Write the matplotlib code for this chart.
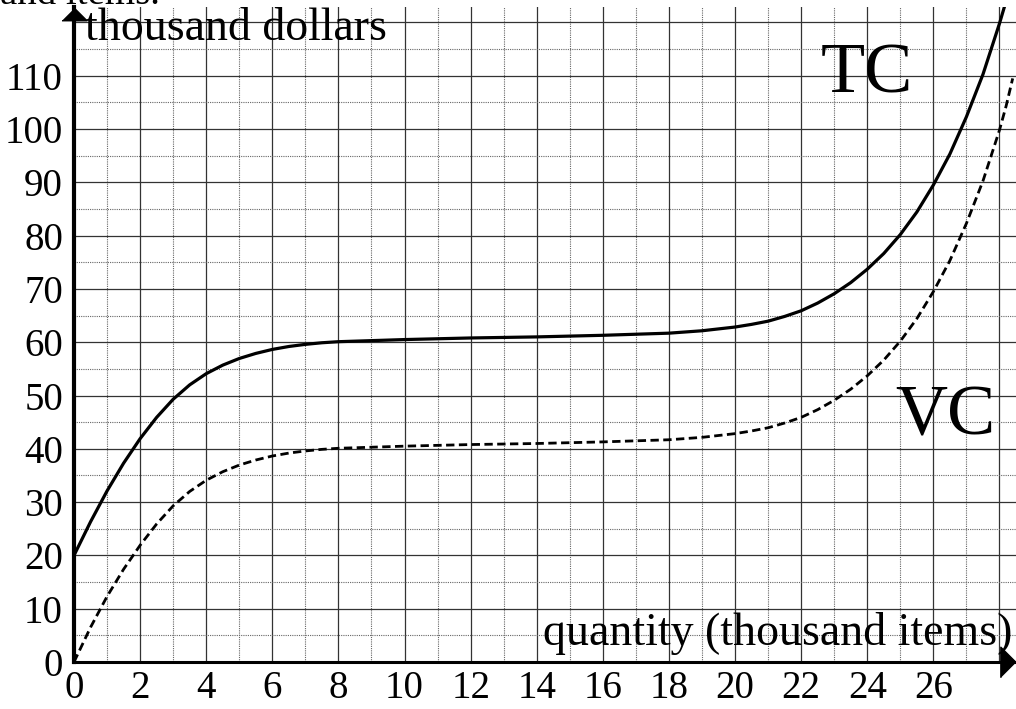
import matplotlib.pyplot as plt

plt.rcParams['font.family'] = ['Liberation Serif', 'DejaVu Serif']

# quantity (thousand items) and cost readings (thousand dollars)
q_tc = [0, 0.5, 1, 1.5, 2, 2.5, 3, 3.5, 4, 4.5, 5, 5.5, 6, 6.5, 7, 7.5, 8,
        10, 12, 14, 16, 18, 19, 20, 20.5, 21, 21.5, 22, 22.5, 23, 23.5, 24, 24.5,
        25, 25.5, 26, 26.5, 27, 27.5, 28, 28.2]
tc = [20, 26.3, 32.1, 37.3, 41.9, 45.9, 49.3, 52.0, 54.1, 55.7, 56.95, 57.9, 58.65, 59.2, 59.6, 59.9, 60.1,
      60.5, 60.8, 61.0, 61.3, 61.7, 62.15, 62.85, 63.35, 63.95, 64.84, 65.9, 67.35, 69.1, 71.19, 73.7, 76.65,
      80.2, 84.43, 89.5, 95.32, 102.3, 110.25, 119.8, 124.0]

q_vc = [0, 0.5, 1, 1.5, 2, 2.5, 3, 3.5, 4, 4.5, 5, 5.5, 6, 6.5, 7, 7.5, 8,
        10, 12, 14, 16, 18, 19, 20, 20.5, 21, 21.5, 22, 22.5, 23, 23.5, 24, 24.5,
        25, 25.5, 26, 26.5, 27, 27.5, 28, 28.2, 28.4]
vc = [0, 6.5, 12.3, 17.4, 21.9, 25.9, 29.3, 32.0, 34.1, 35.7, 36.95, 37.9, 38.65, 39.2, 39.6, 39.9, 40.1,
      40.5, 40.8, 41.0, 41.3, 41.7, 42.15, 42.85, 43.35, 43.95, 44.84, 45.9, 47.35, 49.1, 51.19, 53.7, 56.65,
      60.2, 64.43, 69.5, 75.32, 82.3, 90.25, 99.8, 104.3, 109.5]

x_ticks = list(range(0, 27, 2))
y_ticks = list(range(0, 111, 10))

fig = plt.figure(figsize=(10.16, 7.09), dpi=100)
ax = fig.add_axes([74 / 1016, 47 / 709, 942 / 1016, 655 / 709])
ax.set_xlim(0, 28.5)
ax.set_ylim(0, 122.9)

# grid: solid every 2 / 10, dotted every 1 / 5
ax.set_xticks(list(range(0, 29, 2)), [str(t) for t in x_ticks] + [''])
ax.set_yticks(list(range(0, 121, 10)), [str(t) for t in y_ticks] + [''])
ax.set_xticks(list(range(1, 29, 2)), minor=True)
ax.set_yticks(list(range(5, 121, 10)), minor=True)
ax.grid(which='major', color='0.2', lw=0.9)
ax.grid(which='minor', color='0.4', lw=0.8, ls=(0, (1, 1)))
ax.set_axisbelow(True)
ax.tick_params(which='both', length=0)
ax.tick_params(axis='x', labelsize=28, pad=6)
ax.tick_params(axis='y', labelsize=28, pad=8)

for s in ['top', 'right']:
    ax.spines[s].set_visible(False)
ax.spines['left'].set_linewidth(3)
ax.spines['bottom'].set_linewidth(2.2)
ax.spines['left'].set_zorder(5)
ax.spines['bottom'].set_zorder(5)

# arrow heads
ax.plot([0], [121.5], marker=[(-1, -0.5), (1, -0.5), (0, 0.5)], ms=18, color='black', clip_on=False, zorder=6)
ax.plot([28.26], [0], marker=[(-0.5, -1), (-0.5, 1), (0.5, 0)], ms=22, color='black', clip_on=False, zorder=6)

ax.plot(q_tc, tc, color='black', lw=2.3, zorder=4)
ax.plot(q_vc, vc, color='black', lw=2, dashes=(3, 1.6), zorder=4)

ax.text(0.33, 116.7, 'thousand dollars', fontsize=33, ha='left', va='baseline')
ax.text(0.996, 3.2 / 122.9, 'quantity (thousand items)', fontsize=33, ha='right', va='baseline',
        transform=ax.transAxes)
ax.text(22.6, 106.9, 'TC', fontsize=52, ha='left', va='baseline')
ax.text(24.85, 42.6, 'VC', fontsize=52, ha='left', va='baseline')
fig.text(0.0, (709 - 4) / 709, 'and items.', fontsize=28, ha='left', va='baseline')

fig.savefig('out.png', dpi=100)
